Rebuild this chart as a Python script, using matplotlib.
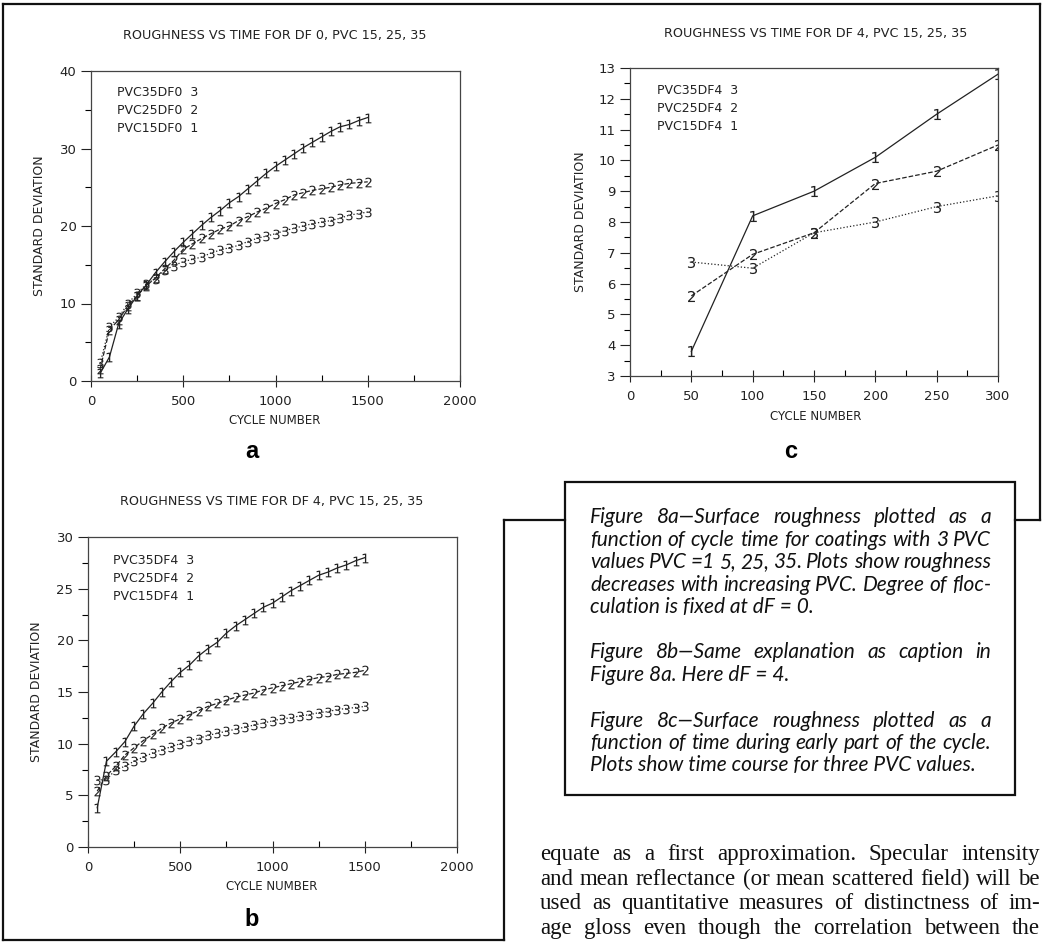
import matplotlib
matplotlib.use("Agg")
import matplotlib.pyplot as plt
from matplotlib.lines import Line2D
from matplotlib.patches import Rectangle
from matplotlib.ticker import MultipleLocator

W, H = 1042, 942

# cycle numbers for panels a and b
cycles = [50, 100, 150, 200, 250, 300, 350, 400, 450, 500, 550, 600, 650, 700, 750,
          800, 850, 900, 950, 1000, 1050, 1100, 1150, 1200, 1250, 1300, 1350, 1400, 1450, 1500]

a_pvc15 = [1.0, 3.1, 7.4, 9.3, 11.0, 12.4, 14.0, 15.4, 16.7, 17.9, 19.0, 20.1, 21.1, 22.0, 23.0,
           23.8, 24.8, 25.8, 26.8, 27.7, 28.5, 29.3, 30.1, 30.8, 31.5, 32.2, 32.8, 33.1, 33.6, 34.0]
a_pvc25 = [1.6, 6.6, 7.9, 9.7, 11.0, 12.3, 13.3, 14.5, 15.6, 17.0, 17.7, 18.4, 19.0, 19.6, 20.0,
           20.7, 21.2, 21.8, 22.3, 22.9, 23.4, 24.0, 24.3, 24.6, 24.8, 25.0, 25.3, 25.5, 25.6, 25.7]
a_pvc35 = [2.3, 7.0, 8.2, 10.0, 11.3, 12.5, 13.2, 14.3, 14.9, 15.4, 15.7, 16.0, 16.5, 16.9, 17.2,
           17.5, 18.0, 18.4, 18.7, 19.0, 19.4, 19.7, 20.0, 20.3, 20.5, 20.7, 21.0, 21.4, 21.6, 21.8]

b_pvc15 = [3.8, 8.3, 9.2, 10.2, 11.7, 12.9, 13.9, 15.0, 16.0, 16.9, 17.6, 18.5, 19.2, 19.8, 20.7,
           21.4, 22.0, 22.6, 23.2, 23.6, 24.2, 24.8, 25.3, 25.8, 26.3, 26.6, 27.0, 27.3, 27.7, 28.0]
b_pvc25 = [5.4, 6.9, 7.8, 8.9, 9.6, 10.3, 10.9, 11.5, 12.0, 12.4, 12.8, 13.2, 13.6, 13.9, 14.2,
           14.5, 14.7, 14.9, 15.2, 15.4, 15.6, 15.8, 16.0, 16.2, 16.4, 16.5, 16.7, 16.8, 16.9, 17.1]
b_pvc35 = [6.5, 6.5, 7.5, 7.8, 8.3, 8.7, 9.1, 9.4, 9.7, 10.0, 10.3, 10.5, 10.8, 11.0, 11.2,
           11.4, 11.6, 11.8, 12.0, 12.2, 12.4, 12.5, 12.7, 12.8, 13.0, 13.1, 13.3, 13.4, 13.5, 13.6]

c_cycles = [50, 100, 150, 200, 250, 300]
c_pvc15 = [3.8, 8.2, 9.0, 10.1, 11.5, 12.8]
c_pvc25 = [5.6, 6.95, 7.65, 9.25, 9.65, 10.5]
c_pvc35 = [6.7, 6.5, 7.65, 8.0, 8.5, 8.85]

legend_df0 = ["PVC35DF0  3", "PVC25DF0  2", "PVC15DF0  1"]
legend_df4 = ["PVC35DF4  3", "PVC25DF4  2", "PVC15DF4  1"]

title_df0 = "ROUGHNESS VS TIME FOR DF 0, PVC 15, 25, 35"
title_df4 = "ROUGHNESS VS TIME FOR DF 4, PVC 15, 25, 35"

caption = [
    ("Figure 8a\u2014Surface roughness plotted as a", True),
    ("function of cycle time for coatings with 3 PVC", True),
    ("values PVC =1 5, 25, 35. Plots show roughness", True),
    ("decreases with increasing PVC. Degree of floc-", True),
    ("culation is fixed at dF = 0.", False),
    ("Figure 8b\u2014Same explanation as caption in", True),
    ("Figure 8a. Here dF = 4.", False),
    ("Figure 8c\u2014Surface roughness plotted as a", True),
    ("function of time during early part of the cycle.", True),
    ("Plots show time course for three PVC values.", False),
]
caption_y = [523, 546, 568, 591, 613, 658, 681, 727, 749, 771]

body = [
    "equate as a first approximation. Specular intensity",
    "and mean reflectance (or mean scattered field) will be",
    "used as quantitative measures of distinctness of im-",
    "age gloss even though the correlation between the",
]
body_y = [860, 885, 909, 934]

ink = "#222222"
plt.rcParams["font.family"] = ["DejaVu Sans"]

fig = plt.figure(figsize=(W / 100, H / 100), dpi=100)


def px(x, y):
    return x / W, 1 - y / H


def panel(box, x, series, xmax, xstep, ymin, ymax, ystep, legend, leg_xy, title, title_xy,
          xlab_xy, ylab_xy, letter, letter_xy, msize):
    l, t, r, b = box
    ax = fig.add_axes([l / W, 1 - b / H, (r - l) / W, (b - t) / H])
    styles = [("-", "$1$"), ("--", "$2$"), (":", "$3$")]
    for y, (ls, mk) in zip(series, styles):
        ax.plot(x, y, ls=ls, color=ink, lw=0.9, marker=mk, markersize=msize,
                markeredgewidth=0)
    ax.set_xlim(0, xmax)
    ax.set_ylim(ymin, ymax)
    ax.xaxis.set_major_locator(MultipleLocator(xstep))
    ax.xaxis.set_minor_locator(MultipleLocator(xstep / 2))
    ax.yaxis.set_major_locator(MultipleLocator(ystep))
    ax.yaxis.set_minor_locator(MultipleLocator(ystep / 2))
    ax.tick_params(axis="x", which="major", direction="inout", length=8, width=0.8,
                   labelsize=9.5, colors=ink, pad=6)
    ax.tick_params(axis="x", which="minor", direction="in", length=4, width=0.8)
    ax.tick_params(axis="y", which="major", direction="out", length=7, width=0.8,
                   labelsize=9.5, colors=ink)
    ax.tick_params(axis="y", which="minor", direction="out", length=4, width=0.8)
    for s in ax.spines.values():
        s.set_linewidth(0.9)
        s.set_color("#444444")
    for i, line in enumerate(legend):
        fig.text(*px(leg_xy[0], leg_xy[1] + 18 * i), line, fontsize=9, color=ink,
                 va="center")
    fig.text(*px(*title_xy), title, fontsize=9.2, color=ink, ha="center", va="center")
    fig.text(*px(*xlab_xy), "CYCLE NUMBER", fontsize=8.5, color=ink, ha="center", va="center")
    fig.text(*px(*ylab_xy), "STANDARD DEVIATION", fontsize=9, color=ink, ha="center",
             va="center", rotation=90)
    fig.text(*px(*letter_xy), letter, fontsize=17, fontweight="bold", color="black",
             family="Liberation Sans", ha="center", va="center")
    return ax


panel((91, 71, 460, 381), cycles, [a_pvc15, a_pvc25, a_pvc35], 2000, 500, 0, 40, 10,
      legend_df0, (117, 93), title_df0, (275, 35), (275, 421), (40, 226), "a", (252, 452), 7)
panel((88, 537, 457, 847), cycles, [b_pvc15, b_pvc25, b_pvc35], 2000, 500, 0, 30, 5,
      legend_df4, (113, 560), title_df4, (272, 502), (272, 887), (37, 692), "b", (252, 920), 7)
panel((630, 68, 998, 376), c_cycles, [c_pvc15, c_pvc25, c_pvc35], 300, 50, 3, 13, 1,
      legend_df4, (657, 91), title_df4, (816, 34), (816, 417), (580, 222), "c", (791, 452), 8)

# page frame around the figures
frame = [((3, 4), (1040, 4)), ((1040, 4), (1040, 520)), ((1040, 520), (1015, 520)),
         ((565, 520), (504, 520)), ((504, 520), (504, 940)), ((504, 940), (3, 940)),
         ((3, 940), (3, 4))]
for p0, p1 in frame:
    x0, y0 = px(*p0)
    x1, y1 = px(*p1)
    fig.add_artist(Line2D([x0, x1], [y0, y1], color="#111111", lw=1.6,
                          transform=fig.transFigure, solid_capstyle="projecting"))
bx, by = px(565, 795)
fig.add_artist(Rectangle((bx, by), 450 / W, 313 / H, fill=False, edgecolor="#111111",
                         lw=1.6, transform=fig.transFigure))

renderer = fig.canvas.get_renderer()


def justify(line, x0, x1, y, **kw):
    words = line.split()
    texts = [fig.text(*px(x0, y), w, va="baseline", **kw) for w in words]
    widths = [t.get_window_extent(renderer).width for t in texts]
    gap = (x1 - x0 - sum(widths)) / (len(words) - 1)
    x = x0
    for t, w in zip(texts, widths):
        t.set_position(px(x, y))
        x += w + gap


cap_kw = dict(family="Lato", style="italic", fontsize=15, color="#111111")
for (line, full), y in zip(caption, caption_y):
    if full:
        justify(line, 590, 991, y, **cap_kw)
    else:
        fig.text(*px(590, y), line, va="baseline", **cap_kw)

body_kw = dict(family="Liberation Serif", fontsize=16.5, color="#111111")
for line, y in zip(body, body_y):
    justify(line, 540, 1040, y, **body_kw)

fig.savefig("out.png", dpi=100)
